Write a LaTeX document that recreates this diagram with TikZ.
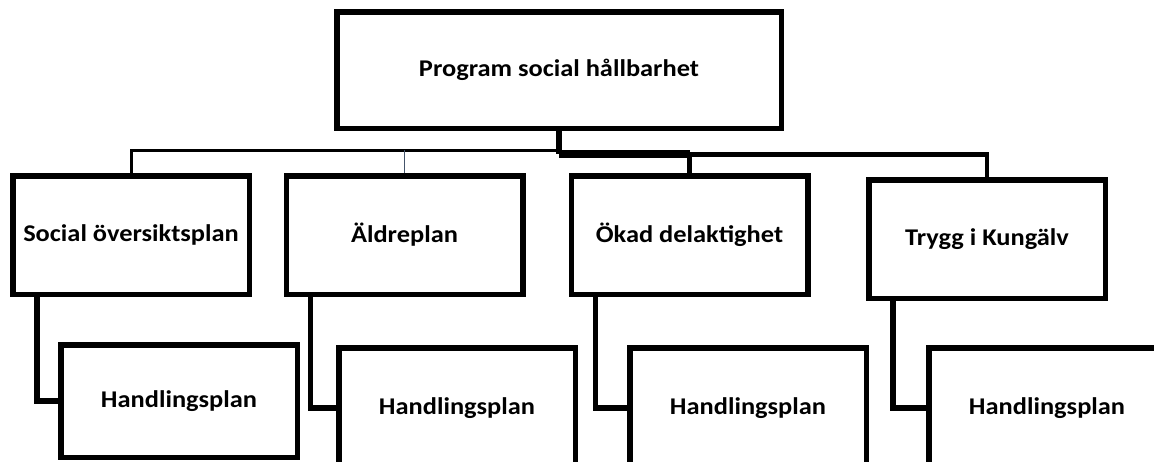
\documentclass[tikz,border=0pt]{standalone}
\usepackage{fontspec}
\setmainfont{Carlito}[FakeStretch=1.1]
\usepackage{tikz}
\definecolor{slate}{HTML}{44546A}

\begin{document}
\begin{tikzpicture}[x=1pt, y=-1pt]
    \tikzstyle{box}=[rectangle, draw=black, line width=5.5pt, fill=white, inner sep=0pt, font=\fontsize{24}{28}\selectfont\bfseries, minimum width=236.5pt, minimum height=118.5pt]
    \tikzstyle{headbox}=[box, minimum width=444.5pt, minimum height=116.5pt]
    \tikzstyle{planbox}=[box, minimum height=120.5pt]
    \tikzstyle{link}=[line width=5.5pt]
    \tikzstyle{elbow}=[link, to path={|- (\tikztotarget)}]
    \useasboundingbox (0,0) rectangle (1154,461);
      \coordinate (busl) at (0,150);
      \coordinate (trunk) at (0,154);
      \coordinate (busr) at (0,154.5);
      \node[headbox] (prog) at (559,70) {Program social hållbarhet};
      \node[box] (sop) at (131,235) {Social översiktsplan};
      \node[box] (aldre) at (404.5,235) {Äldreplan};
      \node[box] (okad) at (689.5,235) {Ökad delaktighet};
      \node[box] (trygg) at (987,239) {Trygg i Kungälv};
      \node[box, minimum height=112.5pt] (hsop) at (179,401) {Handlingsplan};
      \node[planbox] (haldre) at (457,408) {Handlingsplan};
      \node[planbox] (hokad) at (748,408) {Handlingsplan};
      \node[planbox] (htrygg) at (1047,408) {Handlingsplan};
      % bus from the programme down to the four plans
      \draw[line width=3pt] (sop.north) |- (prog.south |- busl);
      \draw[line width=1.5pt, slate] (aldre.north) -- (aldre.north |- busl);
      \draw[link] (prog.south) -- (prog.south |- trunk);
      \draw[line width=8pt] (prog.south |- trunk) -- (okad.north |- trunk);
      \draw[link] (okad.north |- trunk) -- (okad.north);
      \draw[line width=4.5pt] (okad.north |- busr) -| (trygg.north);
      % each plan to its Handlingsplan
      \path ([xshift=-94pt]sop.south) edge[elbow] (hsop.west);
      \path ([xshift=-94pt]aldre.south) edge[elbow] (haldre.west);
      \path ([xshift=-94pt]okad.south) edge[elbow] (hokad.west);
      \path ([xshift=-94pt]trygg.south) edge[elbow] (htrygg.west);
\end{tikzpicture}
\end{document}
